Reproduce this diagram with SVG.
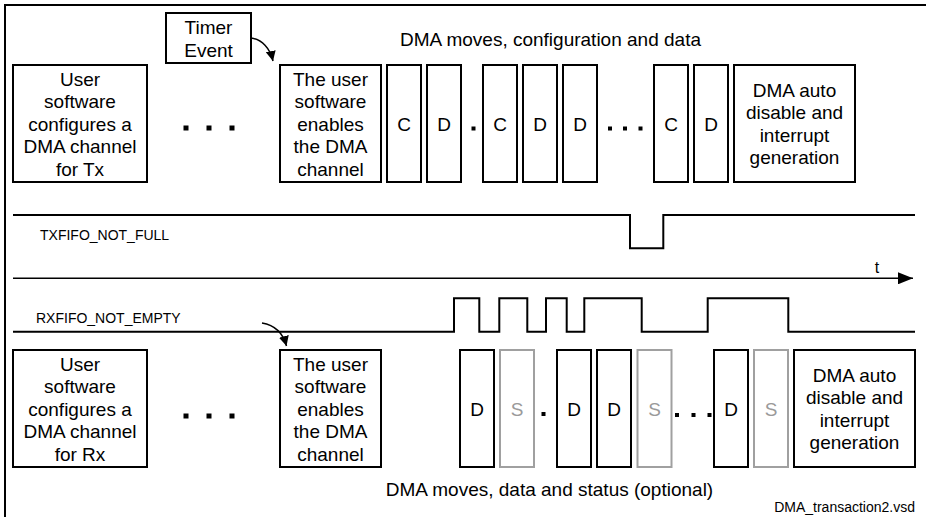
<svg xmlns="http://www.w3.org/2000/svg" width="927" height="517" viewBox="0 0 927 517">
<style>
  text { font-family: "Liberation Sans", Arial, sans-serif; fill: #000; }
  .box { fill: #fff; stroke: #000; stroke-width: 2; }
  .gbox { fill: #fff; stroke: #a0a0a0; stroke-width: 2; }
  .t19 { font-size: 19px; text-anchor: middle; }
  .gt { fill: #9a9a9a; }
  .sig { fill: none; stroke: #000; stroke-width: 2; }
  .lbl { font-size: 14px; }
  .conn { fill: none; stroke: #000; stroke-width: 1.5; }
  .dot { fill: #000; }
</style>
<defs>
  <marker id="ah" markerUnits="userSpaceOnUse" markerWidth="10" markerHeight="10" refX="10" refY="5" orient="auto">
    <path d="M0,0 L10,5 L0,10 z" fill="#000"/>
  </marker>
  <marker id="axis" markerUnits="userSpaceOnUse" markerWidth="15" markerHeight="12" refX="15" refY="6" orient="auto">
    <path d="M0,0 L15,6 L0,12 z" fill="#000"/>
  </marker>
</defs>
<rect width="927" height="517" fill="#fff"/>
<path d="M5,517 V5 H926" fill="none" stroke="#000" stroke-width="2"/>

<!-- Top row -->
<g id="timer">
  <rect class="box" x="166" y="13" width="85" height="50"/>
  <text class="t19" x="208.5" y="34">Timer</text>
  <text class="t19" x="208.5" y="56.5">Event</text>
</g>
<text class="t19" x="550.5" y="45.5">DMA moves, configuration and data</text>
<g id="tx_config">
  <rect class="box" x="13" y="65" width="134" height="117"/>
  <text class="t19" x="80" y="85.5">User</text>
  <text class="t19" x="80" y="108">software</text>
  <text class="t19" x="80" y="130.5">configures a</text>
  <text class="t19" x="80" y="153">DMA channel</text>
  <text class="t19" x="80" y="175.5">for Tx</text>
</g>
<g id="tx_dots1">
  <rect class="dot" x="183.5" y="125.5" width="5" height="5"/>
  <rect class="dot" x="206.5" y="125.5" width="5" height="5"/>
  <rect class="dot" x="229.5" y="125.5" width="5" height="5"/>
</g>
<g id="tx_enable">
  <rect class="box" x="280" y="65" width="101" height="117"/>
  <text class="t19" x="330.5" y="85.5">The user</text>
  <text class="t19" x="330.5" y="108">software</text>
  <text class="t19" x="330.5" y="130.5">enables</text>
  <text class="t19" x="330.5" y="153">the DMA</text>
  <text class="t19" x="330.5" y="175.5">channel</text>
</g>
<g id="tx_c1"><rect class="box" x="387" y="65" width="34" height="117"/><text class="t19" x="404" y="130.5">C</text></g>
<g id="tx_d1"><rect class="box" x="427" y="65" width="34" height="117"/><text class="t19" x="444" y="130.5">D</text></g>
<rect class="dot" x="471.5" y="126.5" width="4" height="4"/>
<g id="tx_c2"><rect class="box" x="483" y="65" width="34" height="117"/><text class="t19" x="500" y="130.5">C</text></g>
<g id="tx_d2"><rect class="box" x="523" y="65" width="34" height="117"/><text class="t19" x="540" y="130.5">D</text></g>
<g id="tx_d3"><rect class="box" x="563" y="65" width="34" height="117"/><text class="t19" x="580" y="130.5">D</text></g>
<g id="tx_dots2">
  <rect class="dot" x="608" y="126.5" width="4" height="4"/>
  <rect class="dot" x="623" y="126.5" width="4" height="4"/>
  <rect class="dot" x="638.5" y="126.5" width="4" height="4"/>
</g>
<g id="tx_c3"><rect class="box" x="654" y="65" width="34" height="117"/><text class="t19" x="671" y="130.5">C</text></g>
<g id="tx_d4"><rect class="box" x="694" y="65" width="34" height="117"/><text class="t19" x="711" y="130.5">D</text></g>
<g id="tx_auto">
  <rect class="box" x="734" y="65" width="121" height="117"/>
  <text class="t19" x="794.5" y="96.5">DMA auto</text>
  <text class="t19" x="794.5" y="119">disable and</text>
  <text class="t19" x="794.5" y="141.5">interrupt</text>
  <text class="t19" x="794.5" y="164">generation</text>
</g>

<!-- Signals -->
<g id="txfifo">
  <path class="sig" d="M13,215 H630 V248.3 H663.3 V215 H915"/>
  <text class="lbl" x="40" y="240">TXFIFO_NOT_FULL</text>
</g>
<g id="time_axis">
  <line class="conn" x1="13" y1="278.3" x2="913" y2="278.3" stroke-width="2" marker-end="url(#axis)"/>
  <text x="877" y="273" font-size="16" text-anchor="middle">t</text>
</g>
<g id="rxfifo">
  <path class="sig" d="M13,331.7 H454 V298.3 H479.3 V331.7 H499.3 V298.3 H527.3 V331.7 H546 V298.3 H566.7 V331.7 H584.3 V298.3 H641.7 V331.7 H707.7 V298.3 H788.3 V331.7 H915"/>
  <text class="lbl" x="36" y="323.3">RXFIFO_NOT_EMPTY</text>
</g>

<g id="connectors">
  <path class="conn" d="M251,38 C262,39.5 270,48 273,61" marker-end="url(#ah)"/>
  <path class="conn" d="M262,323 C274,325 283,333 286.5,346" marker-end="url(#ah)"/>
</g>

<!-- Bottom row -->
<g id="rx_config">
  <rect class="box" x="13" y="350" width="134" height="117"/>
  <text class="t19" x="80" y="370.5">User</text>
  <text class="t19" x="80" y="393">software</text>
  <text class="t19" x="80" y="415.5">configures a</text>
  <text class="t19" x="80" y="438">DMA channel</text>
  <text class="t19" x="80" y="460.5">for Rx</text>
</g>
<g id="rx_dots1">
  <rect class="dot" x="183.5" y="413.5" width="5" height="5"/>
  <rect class="dot" x="206.5" y="413.5" width="5" height="5"/>
  <rect class="dot" x="229.5" y="413.5" width="5" height="5"/>
</g>
<g id="rx_enable">
  <rect class="box" x="280" y="350" width="101" height="117"/>
  <text class="t19" x="330.5" y="370.5">The user</text>
  <text class="t19" x="330.5" y="393">software</text>
  <text class="t19" x="330.5" y="415.5">enables</text>
  <text class="t19" x="330.5" y="438">the DMA</text>
  <text class="t19" x="330.5" y="460.5">channel</text>
</g>
<g id="rx_d1"><rect class="box" x="460" y="350" width="34" height="117"/><text class="t19" x="477" y="415.5">D</text></g>
<g id="rx_s1"><rect class="gbox" x="500" y="350" width="34" height="117"/><text class="t19 gt" x="517" y="415.5">S</text></g>
<rect class="dot" x="541.5" y="412" width="4" height="4"/>
<g id="rx_d2"><rect class="box" x="557" y="350" width="34" height="117"/><text class="t19" x="574" y="415.5">D</text></g>
<g id="rx_d3"><rect class="box" x="597" y="350" width="34" height="117"/><text class="t19" x="614" y="415.5">D</text></g>
<g id="rx_s2"><rect class="gbox" x="637.5" y="350" width="34" height="117"/><text class="t19 gt" x="654.5" y="415.5">S</text></g>
<g id="rx_dots2">
  <rect class="dot" x="675" y="413" width="4" height="4"/>
  <rect class="dot" x="691.5" y="413" width="4" height="4"/>
  <rect class="dot" x="707.5" y="413" width="4" height="4"/>
</g>
<g id="rx_d4"><rect class="box" x="714" y="350" width="34" height="117"/><text class="t19" x="731" y="415.5">D</text></g>
<g id="rx_s3"><rect class="gbox" x="754" y="350" width="34" height="117"/><text class="t19 gt" x="771" y="415.5">S</text></g>
<g id="rx_auto">
  <rect class="box" x="794" y="350" width="121" height="117"/>
  <text class="t19" x="854.5" y="381.5">DMA auto</text>
  <text class="t19" x="854.5" y="404">disable and</text>
  <text class="t19" x="854.5" y="426.5">interrupt</text>
  <text class="t19" x="854.5" y="449">generation</text>
</g>
<text class="t19" x="549.5" y="496">DMA moves, data and status (optional)</text>
<text class="lbl" x="915" y="511.5" text-anchor="end">DMA_transaction2.vsd</text>
</svg>
